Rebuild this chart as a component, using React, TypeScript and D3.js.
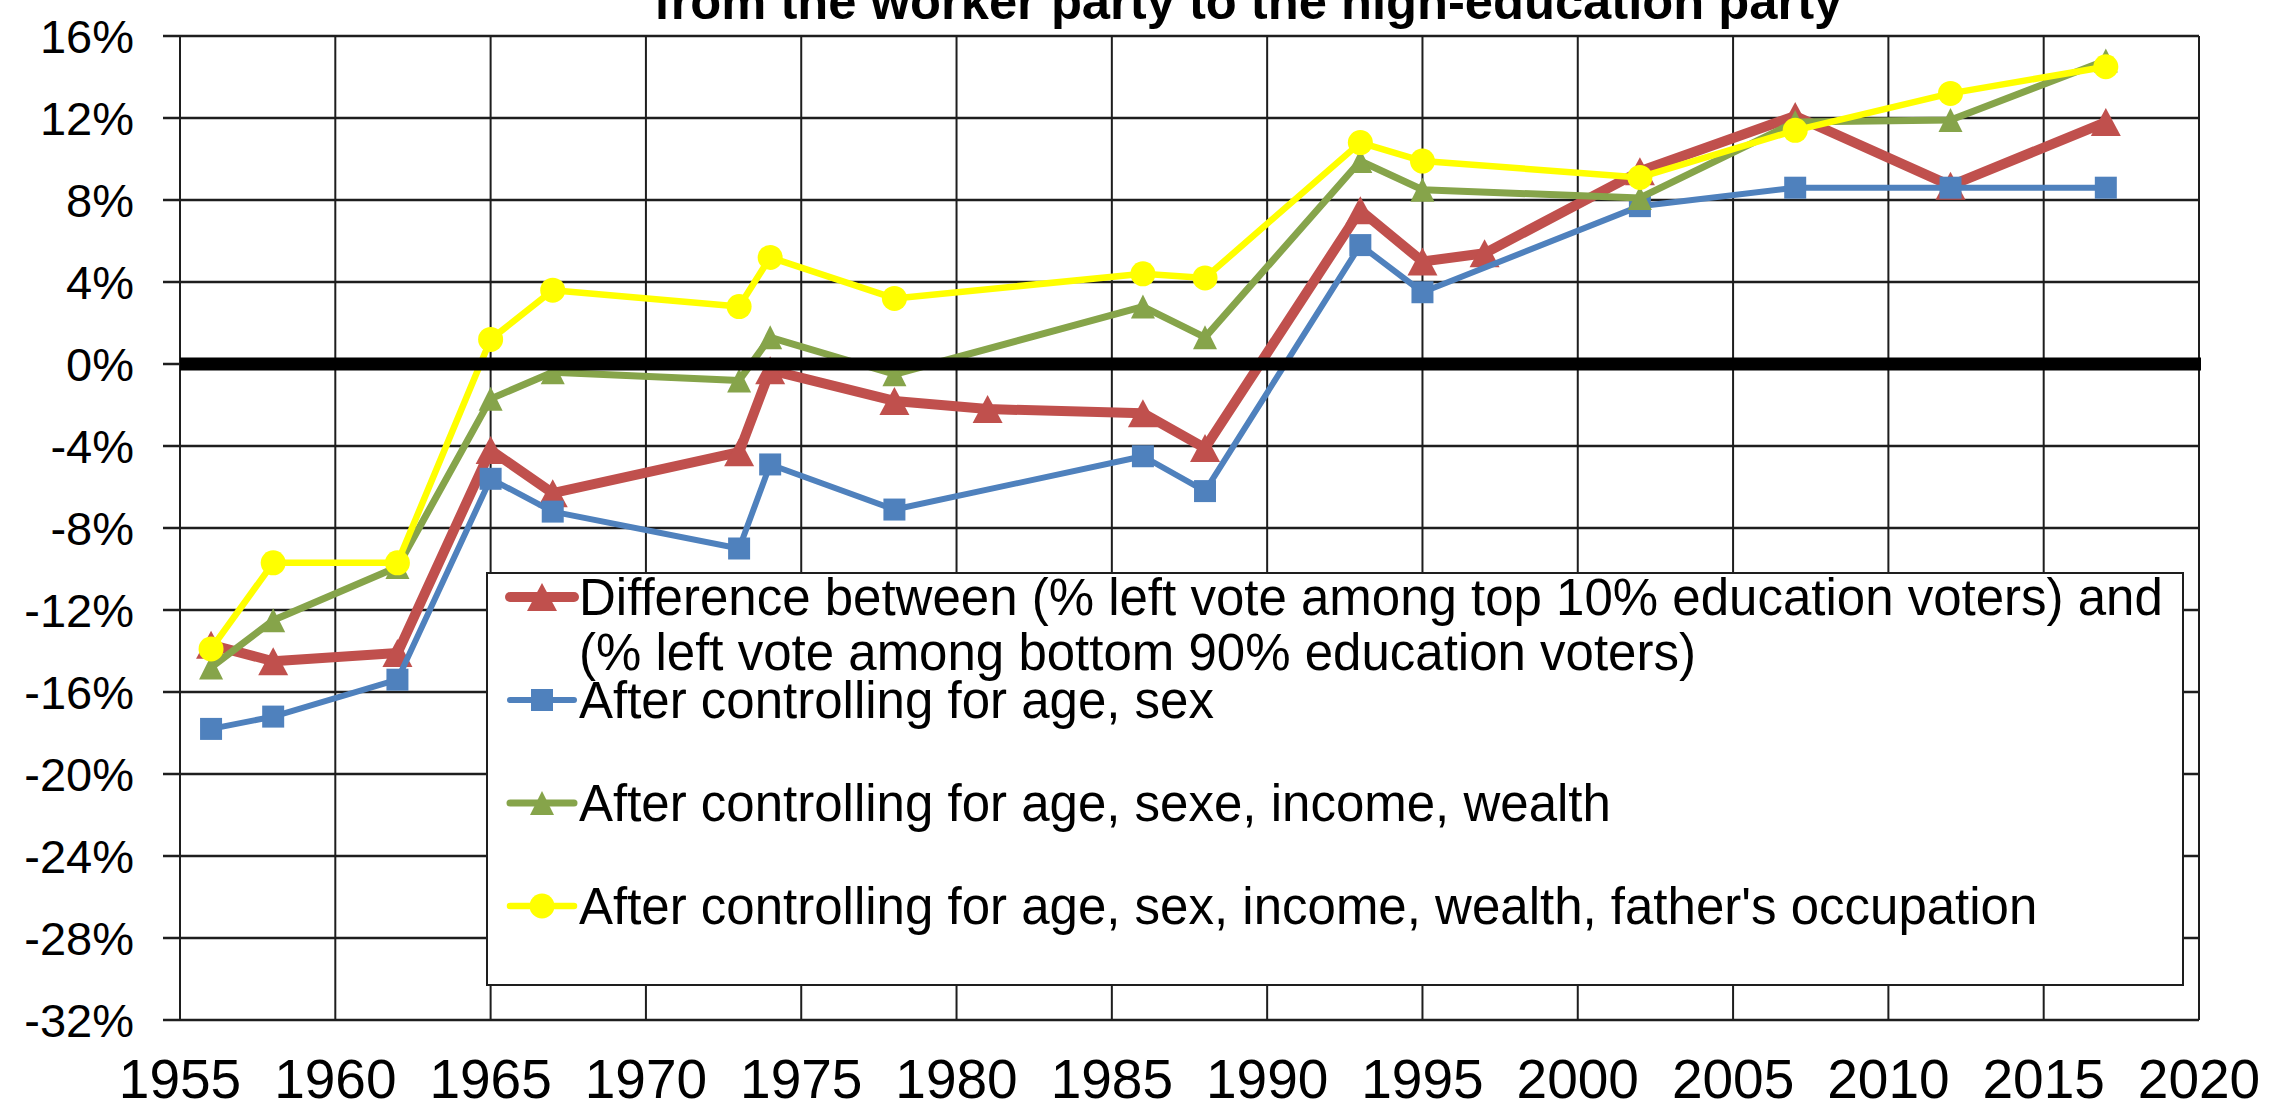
import React, { useRef, useEffect } from 'react';
import * as d3 from 'd3';

// Series values (percentage points)
const redYears = [1956, 1958, 1962, 1965, 1967, 1973, 1974, 1978, 1981, 1986, 1988, 1993, 1995, 1997, 2002, 2007, 2012, 2017];
const redValues = [-13.7, -14.5, -14.1, -4.2, -6.3, -4.3, -0.3, -1.8, -2.2, -2.4, -4.1, 7.5, 5.0, 5.4, 9.4, 12.1, 8.7, 11.8];

const otherYears = [1956, 1958, 1962, 1965, 1967, 1973, 1974, 1978, 1986, 1988, 1993, 1995, 2002, 2007, 2012, 2017];
const blueValues = [-17.8, -17.2, -15.4, -5.6, -7.2, -9.0, -4.9, -7.1, -4.5, -6.2, 5.8, 3.5, 7.7, 8.6, 8.6, 8.6];
const greenValues = [-14.8, -12.5, -9.9, -1.7, -0.4, -0.8, 1.3, -0.5, 2.8, 1.3, 9.9, 8.5, 8.1, 11.8, 11.9, 14.8];
const yellowValues = [-13.9, -9.7, -9.7, 1.2, 3.6, 2.8, 5.2, 3.2, 4.4, 4.2, 10.8, 9.9, 9.1, 11.4, 13.2, 14.5];

const xTicks = [1955, 1960, 1965, 1970, 1975, 1980, 1985, 1990, 1995, 2000, 2005, 2010, 2015, 2020];
const yTicks = [16, 12, 8, 4, 0, -4, -8, -12, -16, -20, -24, -28, -32];

const titleText = 'from the worker party to the high-education party';

const legendLabels = [
  ['Difference between (% left vote among top 10% education voters) and', '(% left vote among bottom 90% education voters)'],
  ['After controlling for age, sex'],
  ['After controlling for age, sexe, income, wealth'],
  ["After controlling for age, sex, income, wealth, father's occupation"],
];

type Marker = 'bigTriangle' | 'square' | 'triangle' | 'circle';

interface Series {
  years: number[];
  values: number[];
  color: string;
  width: number;
  marker: Marker;
}

const series: Series[] = [
  { years: redYears, values: redValues, color: '#C0504D', width: 10, marker: 'bigTriangle' },
  { years: otherYears, values: blueValues, color: '#4F81BD', width: 6, marker: 'square' },
  { years: otherYears, values: greenValues, color: '#86A44A', width: 7, marker: 'triangle' },
  { years: otherYears, values: yellowValues, color: '#FFFF00', width: 6.5, marker: 'circle' },
];

const WIDTH = 2269;
const HEIGHT = 1110;
const FONT = '"Liberation Sans", Arial, sans-serif';

// marker path centred on its bounding box
function markerPath(m: Marker): string {
  if (m === 'bigTriangle') return 'M0,-14L15,14L-15,14Z';
  if (m === 'triangle') return 'M0,-12L12,12L-12,12Z';
  if (m === 'square') return 'M-11,-11H11V11H-11Z';
  return d3.symbol().type(d3.symbolCircle).size(Math.PI * 12.5 * 12.5)() || '';
}

const App: React.FC = () => {
  const svgRef = useRef<SVGSVGElement | null>(null);

  useEffect(() => {
    if (!svgRef.current) return;
    const svg = d3.select(svgRef.current);
    svg.selectAll('*').remove();

    const x = d3.scaleLinear().domain([1955, 2020]).range([180, 2199]);
    const y = d3.scaleLinear().domain([-32, 16]).range([1020, 36]);

    // gridlines
    const grid = svg.append('g');
    grid.selectAll('.hgrid')
      .data(yTicks)
      .join('line')
      .attr('x1', 163)
      .attr('x2', x(2020))
      .attr('y1', d => y(d))
      .attr('y2', d => y(d))
      .attr('stroke', '#1e1e1e')
      .attr('stroke-width', 2.5);
    grid.selectAll('.vgrid')
      .data(xTicks)
      .join('line')
      .attr('x1', d => x(d))
      .attr('x2', d => x(d))
      .attr('y1', y(16))
      .attr('y2', y(-32))
      .attr('stroke', '#1e1e1e')
      .attr('stroke-width', 2);

    // axis labels
    svg.append('g').selectAll('text')
      .data(yTicks)
      .join('text')
      .attr('x', 134)
      .attr('y', d => y(d))
      .attr('dy', '0.36em')
      .attr('text-anchor', 'end')
      .attr('font-family', FONT)
      .attr('font-size', 47)
      .attr('fill', '#000')
      .text(d => `${d}%`);

    svg.append('g').selectAll('text')
      .data(xTicks)
      .join('text')
      .attr('x', d => x(d))
      .attr('y', 1098)
      .attr('text-anchor', 'middle')
      .attr('font-family', FONT)
      .attr('font-size', 55)
      .attr('fill', '#000')
      .text(d => d);

    // series
    const line = d3.line<[number, number]>()
      .x(d => x(d[0]))
      .y(d => y(d[1]));

    series.forEach(s => {
      const pts: [number, number][] = s.years.map((yr, i) => [yr, s.values[i]]);
      const g = svg.append('g');
      g.append('path')
        .attr('d', line(pts))
        .attr('fill', 'none')
        .attr('stroke', s.color)
        .attr('stroke-width', s.width)
        .attr('stroke-linejoin', 'round')
        .attr('stroke-linecap', 'round');
      g.selectAll('.mk')
        .data(pts)
        .join('path')
        .attr('d', markerPath(s.marker))
        .attr('transform', d => `translate(${x(d[0])},${y(d[1])})`)
        .attr('fill', s.color);
    });

    // thick zero line on top
    svg.append('line')
      .attr('x1', x(1955))
      .attr('x2', x(2020) + 2)
      .attr('y1', y(0))
      .attr('y2', y(0))
      .attr('stroke', '#000')
      .attr('stroke-width', 13);

    // legend
    const lg = svg.append('g');
    lg.append('rect')
      .attr('x', 487)
      .attr('y', 573)
      .attr('width', 2183 - 487)
      .attr('height', 985 - 573)
      .attr('fill', '#fff')
      .attr('stroke', '#1e1e1e')
      .attr('stroke-width', 2);

    const rowY = [597, 700, 803, 906];
    series.forEach((s, i) => {
      const cy = rowY[i];
      lg.append('line')
        .attr('x1', 510)
        .attr('x2', 574)
        .attr('y1', cy)
        .attr('y2', cy)
        .attr('stroke', s.color)
        .attr('stroke-width', s.width)
        .attr('stroke-linecap', 'round');
      lg.append('path')
        .attr('d', markerPath(s.marker))
        .attr('transform', `translate(542,${cy})`)
        .attr('fill', s.color);
      legendLabels[i].forEach((txt, j) => {
        lg.append('text')
          .attr('x', 579)
          .attr('y', cy + 18 + j * 55)
          .attr('font-family', FONT)
          .attr('font-size', 51)
          .attr('fill', '#000')
          .text(txt);
      });
    });

    // title (top part is cut off in the original)
    svg.append('text')
      .attr('x', 1248)
      .attr('y', 19)
      .attr('text-anchor', 'middle')
      .attr('font-family', FONT)
      .attr('font-weight', 'bold')
      .attr('font-size', 50.7)
      .attr('fill', '#000')
      .text(titleText);
  }, []);

  return (
    <svg
      ref={svgRef}
      width={WIDTH}
      height={HEIGHT}
      style={{ position: 'absolute', left: 0, top: 0, display: 'block', background: '#fff' }}
    />
  );
};

export default App;
